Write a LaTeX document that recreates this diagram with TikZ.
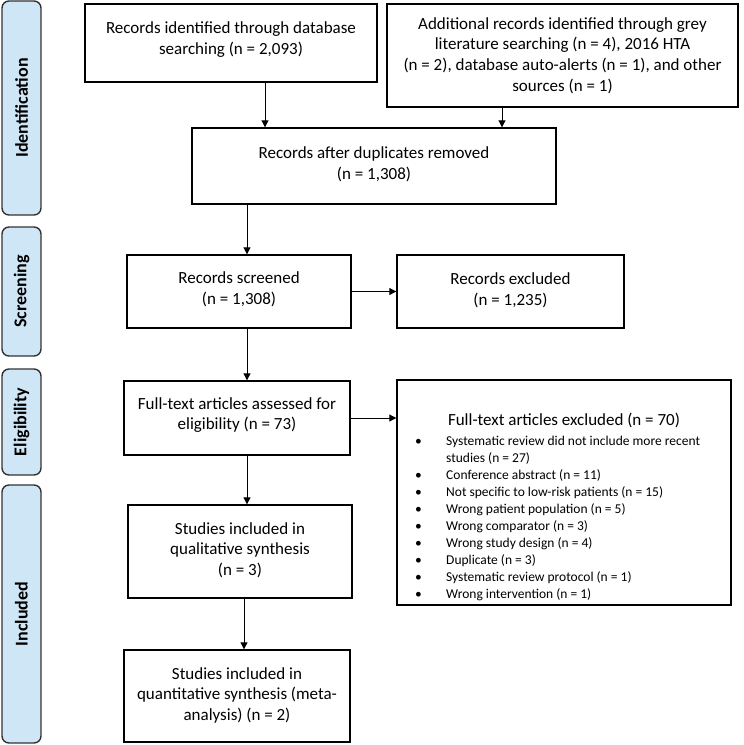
\documentclass[tikz,border=0pt]{standalone}
\usepackage{fontspec}
\setmainfont{Carlito}
\usetikzlibrary{arrows.meta}
\definecolor{sideblue}{RGB}{207,230,246}
\begin{document}
\begin{tikzpicture}[x=1pt,y=-1pt,
  box/.style={draw=black, line width=1.4pt, align=center, inner sep=0pt,
    font=\fontsize{17}{20.7}\selectfont},
  side/.style={draw=black!80, line width=1.4pt, fill=sideblue, rounded corners=7pt,
    minimum width=39pt, inner sep=0pt, font=\fontsize{18}{20}\selectfont\bfseries},
  arr/.style={-{Triangle[length=7pt,width=7pt]}, line width=1pt},
  bul/.style={align=left, inner sep=0pt, font=\fontsize{13.5}{17}\selectfont}]
\useasboundingbox (0,0) rectangle (744,745);

% side bars
\node[side, minimum height=214pt] (sId) at (21.5,108) {\rotatebox{90}{Identification}};
\node[side, minimum height=129pt] (sSc) at (21.5,291.5) {\rotatebox{90}{Screening}};
\node[side, minimum height=106pt] (sEl) at (21.5,422) {\rotatebox{90}{Eligibility}};
\node[side, minimum height=258pt] (sIn) at (21.5,614) {\rotatebox{90}{Included}};

% boxes
\node[box, minimum width=292pt, minimum height=78pt] (b1) at (231,43)
  {Records identified through database\\searching (n = 2,093)\\[-10.7pt]};
\node[box, minimum width=351pt, minimum height=103pt] (b2) at (562.5,55.5)
  {Additional records identified through grey\\literature searching (n = 4), 2016 HTA\\(n = 2), database auto-alerts (n = 1), and other\\sources (n = 1)};
\node[box, minimum width=364pt, minimum height=76pt] (b3) at (374,166)
  {Records after duplicates removed\\(n = 1,308)\\[-14.7pt]};
\node[box, minimum width=224pt, minimum height=73pt] (b4) at (239,291.5)
  {Records screened\\(n = 1,308)\\[-13.7pt]};
\node[box, minimum width=227pt, minimum height=73pt] (b5) at (510.5,291.5)
  {Records excluded\\(n = 1,235)\\[-15.7pt]};
\node[box, minimum width=226pt, minimum height=74pt] (b6) at (237,418)
  {Full-text articles assessed for\\eligibility (n = 73)\\[-11.7pt]};
\node[box, minimum width=334pt, minimum height=225pt] (b7) at (564,492.5) {};
\node[box, minimum width=224pt, minimum height=93pt] (b8) at (240,551.5)
  {Studies included in\\qualitative synthesis\\(n = 3)\\[-15.7pt]};
\node[box, minimum width=226pt, minimum height=92pt] (b9) at (237,696)
  {Studies included in\\quantitative synthesis (meta-\\analysis) (n = 2)\\[-16.7pt]};

% contents of the excluded full-text box
\node[inner sep=0pt, font=\fontsize{17}{20}\selectfont] (t7) at (564,420)
  {Full-text articles excluded (n = 70)};
\node[bul, anchor=north west] (l7) at (415,436)
  {\makebox[31pt][l]{\textbullet}Systematic review did not include more recent\\
   \hspace*{31pt}studies (n = 27)\\
   \makebox[31pt][l]{\textbullet}Conference abstract (n = 11)\\
   \makebox[31pt][l]{\textbullet}Not specific to low-risk patients (n = 15)\\
   \makebox[31pt][l]{\textbullet}Wrong patient population (n = 5)\\
   \makebox[31pt][l]{\textbullet}Wrong comparator (n = 3)\\
   \makebox[31pt][l]{\textbullet}Wrong study design (n = 4)\\
   \makebox[31pt][l]{\textbullet}Duplicate (n = 3)\\
   \makebox[31pt][l]{\textbullet}Systematic review protocol (n = 1)\\
   \makebox[31pt][l]{\textbullet}Wrong intervention (n = 1)};

% connectors
\draw[arr] ([xshift=34pt]b1.south) -- ([xshift=34pt]b1.south |- b3.north);
\draw[arr] ([xshift=-60.5pt]b2.south) -- ([xshift=-60.5pt]b2.south |- b3.north);
\draw[arr] ([xshift=8pt]b4.north |- b3.south) -- ([xshift=8pt]b4.north);
\draw[arr] (b4.east) -- (b5.west);
\draw[arr] ([xshift=10pt]b6.north |- b4.south) -- ([xshift=10pt]b6.north);
\draw[arr] (b6.east) -- (b6.east -| b7.west);
\draw[arr] ([xshift=7pt]b8.north |- b6.south) -- ([xshift=7pt]b8.north);
\draw[arr] ([xshift=7pt]b9.north |- b8.south) -- ([xshift=7pt]b9.north);
\end{tikzpicture}
\end{document}
